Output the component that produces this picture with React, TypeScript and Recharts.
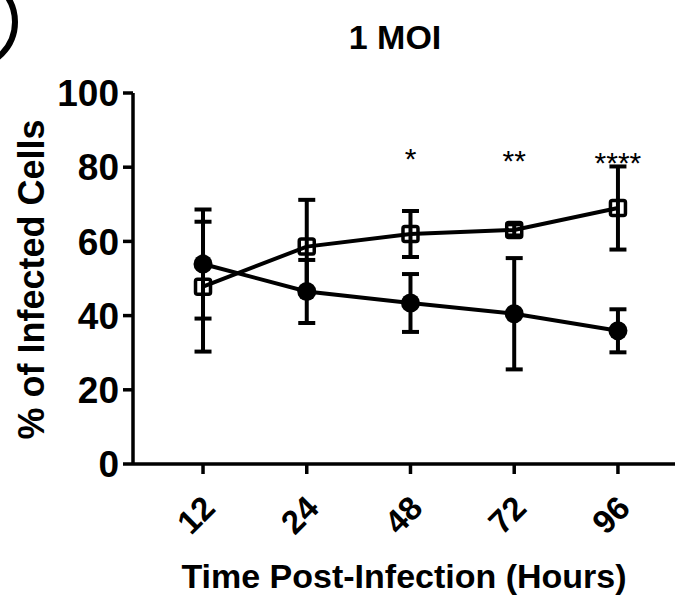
import { LineChart, Line, XAxis, YAxis, ErrorBar, LabelList, Label } from "recharts";

const hours = ["12", "24", "48", "72", "96"];
const filledMean = [53.9, 46.5, 43.4, 40.5, 35.9];
const filledErr = [14.7, 8.5, 7.8, 15.0, 5.8];
const openMean = [47.8, 58.6, 62.0, 63.1, 69.0];
const openErr = [17.5, 12.6, 6.2, 1.5, 11.2];
const stars = ["", "", "*", "**", "****"];
const starLevel = [null, null, 79.6, 79.0, 78.4];
const yTicks = [0, 20, 40, 60, 80, 100];

const data = hours.map((h, i) => ({
  idx: i,
  hour: h,
  filled: filledMean[i],
  filledErr: filledErr[i],
  open: openMean[i],
  openErr: openErr[i],
  star: stars[i],
  starY: starLevel[i],
}));

const FONT = "'Liberation Sans', Arial, Helvetica, sans-serif";

function SquareDot(props: any) {
  const { cx, cy } = props;
  if (cx == null || cy == null) return null;
  return (
    <rect x={cx - 7.5} y={cy - 7.5} width={15} height={15} rx={2} fill="none" stroke="#000" strokeWidth={3.5} />
  );
}

function HourTick(props: any) {
  const { x, y, payload } = props;
  const tx = x + 14;
  const ty = y + 34;
  return (
    <text
      x={tx}
      y={ty}
      transform={`rotate(-45 ${tx} ${ty})`}
      textAnchor="end"
      fontFamily={FONT}
      fontWeight="bold"
      fontSize={33}
      fill="#000"
    >
      {hours[payload.value]}
    </text>
  );
}

function StarLabel(props: any) {
  const { x, y, value } = props;
  if (!value || x == null || y == null) return null;
  return (
    <text x={x} y={y} textAnchor="middle" fontFamily={FONT} fontSize={30} fill="#000">
      {value}
    </text>
  );
}

export default function App() {
  return (
    <div style={{ position: "absolute", left: 0, top: 0, width: 685, height: 598, background: "#fff" }}>
      <LineChart width={685} height={598} data={data} margin={{ top: 93, right: 10, bottom: 104, left: 0 }}>
        <XAxis
          dataKey="idx"
          type="number"
          domain={[-0.675, 4.55]}
          ticks={[0, 1, 2, 3, 4]}
          allowDataOverflow
          height={30}
          axisLine={{ stroke: "#000", strokeWidth: 3.5 }}
          tickLine={{ stroke: "#000", strokeWidth: 3.5 }}
          tickSize={10}
          tick={<HourTick />}
        >
          <Label
            content={(p: any) => (
              <text
                x={p.viewBox.x + p.viewBox.width / 2}
                y={588}
                textAnchor="middle"
                fontFamily={FONT}
                fontWeight="bold"
                fontSize={34}
                fill="#000"
              >
                Time Post-Infection (Hours)
              </text>
            )}
          />
        </XAxis>
        <YAxis
          width={133}
          domain={[0, 100]}
          ticks={yTicks}
          axisLine={{ stroke: "#000", strokeWidth: 3.5 }}
          tickLine={{ stroke: "#000", strokeWidth: 3.5 }}
          tickSize={10}
          tickMargin={4}
          tick={{ fill: "#000", fontSize: 37, fontWeight: "bold", fontFamily: FONT }}
        >
          <Label
            content={(p: any) => {
              const cy = p.viewBox.y + p.viewBox.height / 2 + 1;
              return (
                <text
                  x={44}
                  y={cy}
                  transform={`rotate(-90 44 ${cy})`}
                  textAnchor="middle"
                  fontFamily={FONT}
                  fontWeight="bold"
                  fontSize={36}
                  fill="#000"
                >
                  % of Infected Cells
                </text>
              );
            }}
          />
        </YAxis>
        <Line
          dataKey="filled"
          stroke="#000"
          strokeWidth={4}
          dot={{ r: 9.5, fill: "#000", stroke: "#000", strokeWidth: 0 }}
          activeDot={false}
          isAnimationActive={false}
        >
          <ErrorBar dataKey="filledErr" direction="y" width={8.5} stroke="#000" strokeWidth={4} />
        </Line>
        <Line
          dataKey="open"
          stroke="#000"
          strokeWidth={4}
          dot={(p: any) => <SquareDot key={`sq-${p.index}`} {...p} />}
          activeDot={false}
          isAnimationActive={false}
        >
          <ErrorBar dataKey="openErr" direction="y" width={8.5} stroke="#000" strokeWidth={4} />
        </Line>
        <Line dataKey="starY" stroke="none" dot={false} activeDot={false} isAnimationActive={false}>
          <LabelList dataKey="star" content={<StarLabel />} />
        </Line>
      </LineChart>
      <svg width={685} height={598} style={{ position: "absolute", left: 0, top: 0, pointerEvents: "none" }}>
        <circle cx={-30} cy={22} r={45} fill="none" stroke="#000" strokeWidth={6} />
        <text x={395} y={49} textAnchor="middle" fontFamily={FONT} fontWeight="bold" fontSize={34} fill="#000">
          1 MOI
        </text>
      </svg>
    </div>
  );
}
